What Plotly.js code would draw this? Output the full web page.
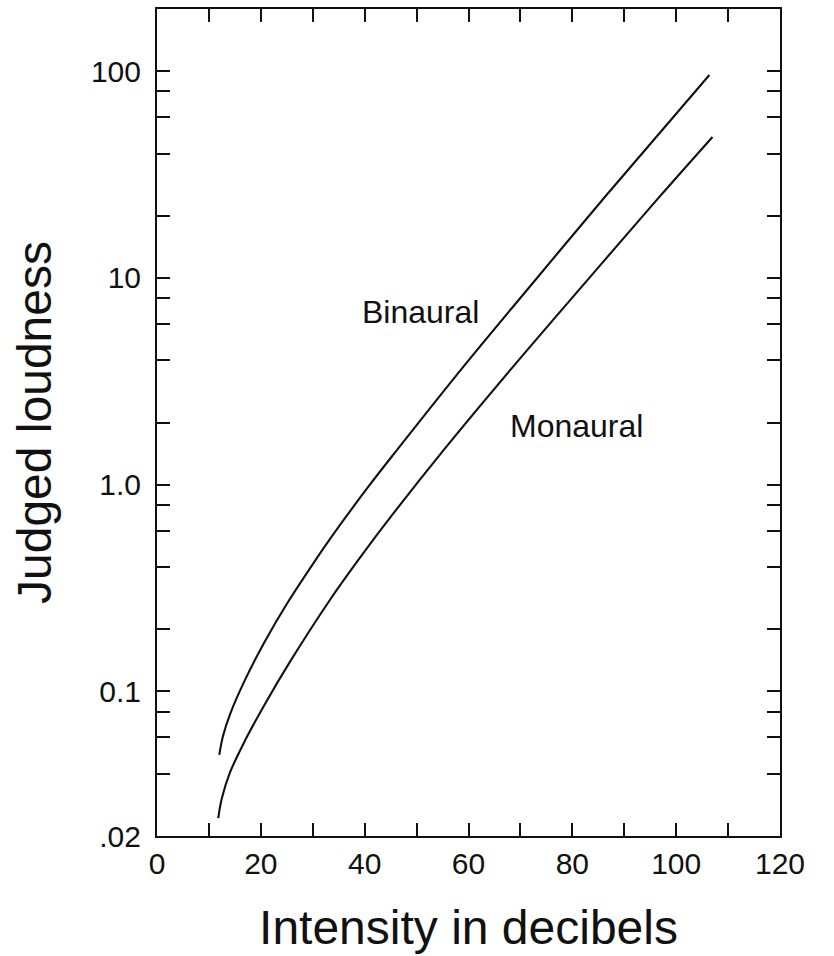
<!DOCTYPE html>
<html>
<head>
<meta charset="utf-8">
<script src="https://cdn.plot.ly/plotly-3.0.1.min.js"></script>
<style>html,body{margin:0;padding:0;background:#fff;}#chart{width:834px;height:956px;}</style>
</head>
<body>
<div id="chart"></div>
<script>
// Intensity (dB) and judged loudness
const binauralIntensity = [12.0, 12.7, 14.1, 17.0, 20.8, 25.2, 29.5, 33.3, 41.0, 46.2, 59.3, 73.2, 86.3, 106.4];
const binauralLoudness  = [0.0494, 0.0608, 0.078, 0.1145, 0.175, 0.270, 0.395, 0.546, 1.0, 1.47, 3.80, 10.0, 24.7, 95.9];

const monauralIntensity = [11.8, 12.5, 14.1, 17.0, 20.8, 25.6, 33.3, 38.5, 43.9, 55.2, 69.0, 83.4, 96.6, 107.0];
const monauralLoudness  = [0.0244, 0.0305, 0.0408, 0.0582, 0.087, 0.139, 0.277, 0.423, 0.643, 1.47, 3.83, 10.1, 24.4, 48.1];

const xTickVals = [0, 10, 20, 30, 40, 50, 60, 70, 80, 90, 100, 110, 120];
const xTickText = ['0', '', '20', '', '40', '', '60', '', '80', '', '100', '', '120'];

const yTickVals = [0.02, 0.04, 0.06, 0.08, 0.1, 0.2, 0.4, 0.6, 0.8, 1, 2, 4, 6, 8, 10, 20, 40, 60, 80, 100];
const yTickText = ['.02', '', '', '', '0.1', '', '', '', '', '1.0', '', '', '', '', '10', '', '', '', '', '100'];

const seriesLabels = ['Binaural', 'Monaural'];
const labelPos = [[50.7, 6.85], [80.8, 1.92]];

const FONT = '"Liberation Sans", Arial, Helvetica, sans-serif';

const lineStyle = {color: '#111', width: 2.1, shape: 'spline', smoothing: 1.0};

const traces = [
  {x: binauralIntensity, y: binauralLoudness, mode: 'lines', name: seriesLabels[0], line: lineStyle, hoverinfo: 'x+y'},
  {x: monauralIntensity, y: monauralLoudness, mode: 'lines', name: seriesLabels[1], line: lineStyle, hoverinfo: 'x+y'}
];

const layout = {
  width: 834, height: 956,
  margin: {l: 157, r: 54, t: 9, b: 120},
  paper_bgcolor: '#fff', plot_bgcolor: '#fff',
  showlegend: false,
  font: {family: FONT, color: '#111'},
  xaxis: {
    range: [0, 120],
    tickmode: 'array', tickvals: xTickVals, ticktext: xTickText,
    ticks: 'inside', ticklen: 13, tickwidth: 2, tickcolor: '#111',
    showline: true, linewidth: 2, linecolor: '#111', mirror: 'ticks',
    showgrid: false, zeroline: false,
    tickfont: {size: 30, family: FONT, color: '#111'},
    title: {text: 'Intensity in decibels', font: {size: 48, family: FONT, color: '#111'}, standoff: 31}
  },
  yaxis: {
    type: 'log',
    range: [Math.log10(0.02), Math.log10(200)],
    tickmode: 'array', tickvals: yTickVals, ticktext: yTickText,
    ticks: 'inside', ticklen: 13, tickwidth: 2, tickcolor: '#111',
    showline: true, linewidth: 2, linecolor: '#111', mirror: 'ticks',
    showgrid: false, zeroline: false,
    tickfont: {size: 30, family: FONT, color: '#111'},
    ticklabelstandoff: 8,
    title: {text: 'Judged loudness', font: {size: 48, family: FONT, color: '#111'}, standoff: 24}
  },
  annotations: seriesLabels.map((t, i) => ({
    x: labelPos[i][0], y: Math.log10(labelPos[i][1]), xref: 'x', yref: 'y',
    text: t, showarrow: false, xanchor: 'center', yanchor: 'middle',
    font: {size: 32, family: FONT, color: '#111'}
  }))
};

Plotly.newPlot('chart', traces, layout, {displayModeBar: false, staticPlot: true});
</script>
</body>
</html>
